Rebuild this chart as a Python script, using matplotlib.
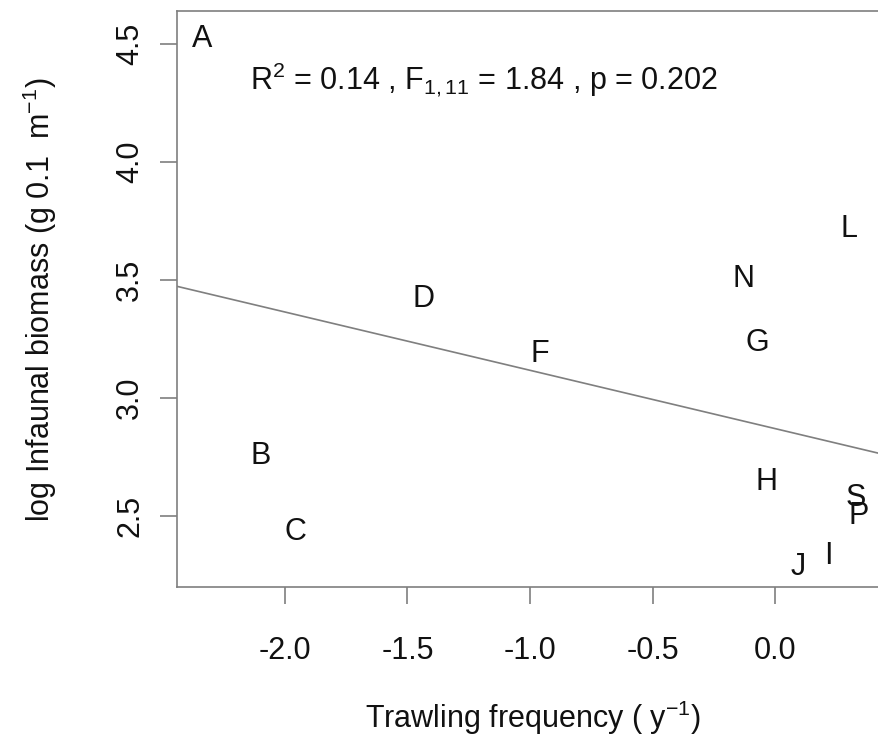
import matplotlib
matplotlib.use("Agg")
import matplotlib.pyplot as plt

plt.rcParams["font.family"] = ["Liberation Sans", "DejaVu Sans"]
plt.rcParams["mathtext.fontset"] = "custom"
plt.rcParams["mathtext.rm"] = "Liberation Sans"
plt.rcParams["mathtext.it"] = "Liberation Sans:italic"

# site labels with trawling frequency (log) and infaunal biomass (log)
sites = ["B", "C", "D", "F", "N", "G", "L", "H", "S", "P", "I", "J"]
trawl = [-2.10, -1.955, -1.433, -0.96, -0.13, -0.073, 0.30, -0.033, 0.33, 0.34, 0.216, 0.094]
biomass = [2.754, 2.432, 3.422, 3.185, 3.506, 3.232, 3.718, 2.644, 2.576, 2.50, 2.331, 2.284]

# fitted regression
intercept = 2.871
slope = -0.247

xticks = [-2.0, -1.5, -1.0, -0.5, 0.0]
yticks = [2.5, 3.0, 3.5, 4.0, 4.5]
grey = "#7f7f7f"
ink = "#111111"
fs = 22

fig = plt.figure(figsize=(8.79, 7.37), dpi=100)
ax = fig.add_axes([177 / 879, 1 - 587 / 737, 1 - 177 / 879, (587 - 11) / 737])

xlim = (-2.44, 0.424)
ax.set_xlim(*xlim)
ax.set_ylim(2.20, 4.64)

for s, x, y in zip(sites, trawl, biomass):
    ax.text(x, y, s, ha="center", va="center", fontsize=fs, color=ink)

ax.plot(xlim, [intercept + slope * xlim[0], intercept + slope * xlim[1]],
        color=grey, lw=1.2)

ax.text(202 / 879, 1 - 39 / 737, "A", transform=fig.transFigure,
        ha="center", va="center", fontsize=fs, color=ink)
ax.text(250 / 879, 1 - 80 / 737,
        r"R$^2$ = 0.14 , F$_{1,11}$ = 1.84 , p = 0.202",
        transform=fig.transFigure, ha="left", va="center",
        fontsize=fs, color=ink)

ax.set_xticks(xticks)
ax.set_xticklabels([f"{v:.1f}" for v in xticks])
ax.set_yticks(yticks)
ax.set_yticklabels([f"{v:.1f}" for v in yticks], rotation=90, va="center")
ax.tick_params(axis="both", direction="out", length=12, width=1.2,
               color=grey, labelsize=fs, labelcolor=ink)
ax.tick_params(axis="x", pad=23)
ax.tick_params(axis="y", pad=11)

for name, sp in ax.spines.items():
    sp.set_color(grey)
    sp.set_linewidth(1.2)
ax.spines["right"].set_visible(False)

ax.set_xlabel(r"Trawling frequency ( y$^{-1}$)", fontsize=fs, color=ink)
ax.set_ylabel(r"log Infaunal biomass (g 0.1  m$^{-1}$)", fontsize=fs, color=ink)
ax.xaxis.set_label_coords((533 - 177) / 702, (587 - 718) / 576)
ax.yaxis.set_label_coords((40 - 177) / 702, (587 - 300) / 576)
ax.xaxis.label.set_va("center")
ax.yaxis.label.set_va("center")

fig.savefig("out.png", dpi=100)
